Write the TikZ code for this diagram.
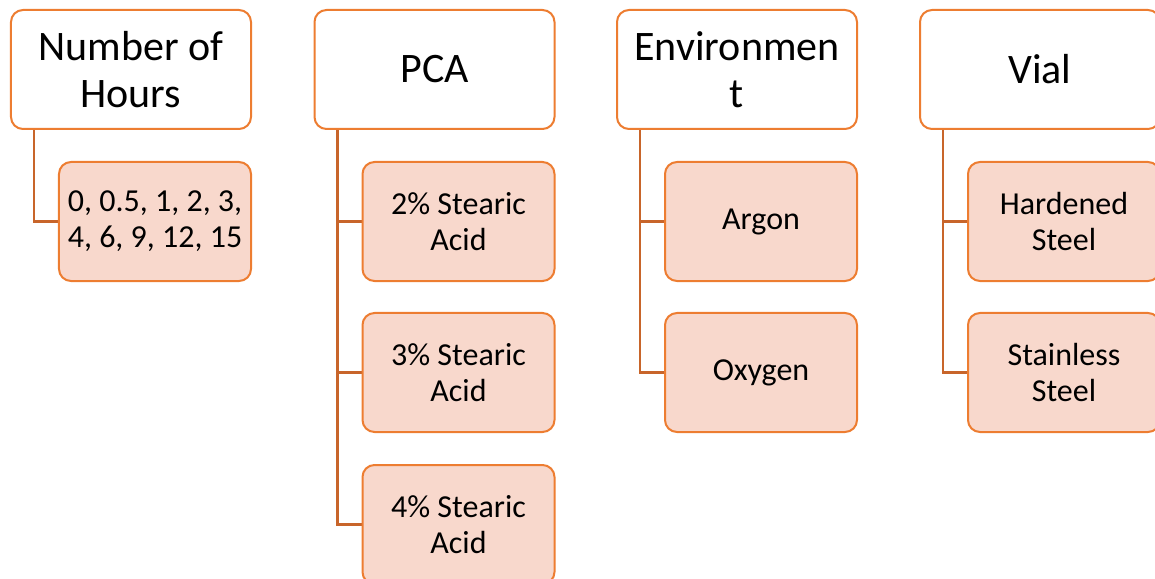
\documentclass[tikz,border=0pt]{standalone}
\usepackage{fontspec}
\setmainfont{Carlito}
\usetikzlibrary{backgrounds}
\definecolor{boxor}{HTML}{ED7D31}
\definecolor{leaffill}{HTML}{F8D8CC}
\definecolor{connor}{HTML}{C8652A}
\tikzset{
 hdr/.style={draw=boxor, line width=2bp, fill=white, rounded corners=12bp, minimum width=240bp, minimum height=119bp, align=center, font=\fontsize{42bp}{47bp}\selectfont, inner sep=0pt},
 leaf/.style={draw=boxor, line width=2bp, fill=leaffill, rounded corners=12bp, minimum width=192bp, minimum height=119bp, align=center, font=\fontsize{32bp}{36bp}\selectfont, inner sep=0pt},
 conn/.style={draw=connor, line width=2.2bp}
}
\begin{document}
\begin{tikzpicture}[x=1bp,y=-1bp]
\useasboundingbox (0,0) rectangle (1155,579);
% headers
\node[hdr] (h1) at (131,69.5) {Number of\\Hours};
\node[hdr] (h2) at (434.5,69.5) {PCA};
\node[hdr] (h3) at (737,69.5) {Environmen\\t};
\node[hdr] (h4) at (1040,69.5) {Vial};
% leaves
\node[leaf] (a1) at (155,221.5) {0, 0.5, 1, 2, 3,\\4, 6, 9, 12, 15};
\node[leaf] (p1) at (458.5,221.5) {2\% Stearic\\Acid};
\node[leaf] (p2) at (458.5,372.5) {3\% Stearic\\Acid};
\node[leaf] (p3) at (458.5,524.5) {4\% Stearic\\Acid};
\node[leaf] (e1) at (761,221.5) {Argon};
\node[leaf] (e2) at (761,372.5) {Oxygen};
\node[leaf] (v1) at (1064,221.5) {Hardened\\Steel};
\node[leaf] (v2) at (1064,372.5) {Stainless\\Steel};
% connectors
\begin{scope}[on background layer]
\draw[conn] ([xshift=24bp]h1.south west) |- (a1.west);
\draw[conn] ([xshift=24bp]h2.south west) |- (p3.west);
\draw[conn] ([xshift=24bp]h2.south west) |- (p1.west);
\draw[conn] ([xshift=24bp]h2.south west) |- (p2.west);
\draw[conn] ([xshift=24bp]h3.south west) |- (e2.west);
\draw[conn] ([xshift=24bp]h3.south west) |- (e1.west);
\draw[conn] ([xshift=24bp]h4.south west) |- (v2.west);
\draw[conn] ([xshift=24bp]h4.south west) |- (v1.west);
\end{scope}
\end{tikzpicture}
\end{document}
